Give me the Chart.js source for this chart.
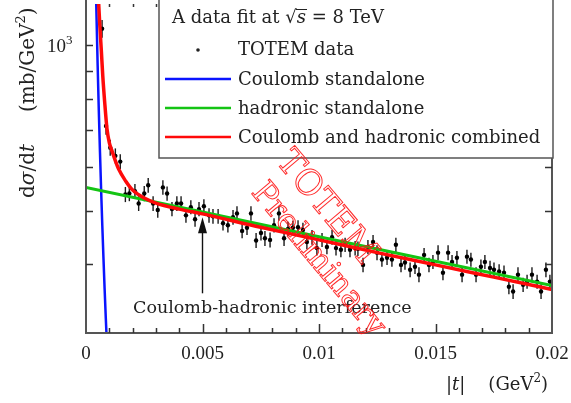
<!DOCTYPE html>
<html>
<head>
<meta charset="utf-8">
<script src="https://cdn.jsdelivr.net/npm/chart.js@4.4.1/dist/chart.umd.min.js"></script>
<style>
  html, body { margin: 0; padding: 0; background: #fff; overflow: hidden; }
  canvas { display: block; }
</style>
</head>
<body>
<canvas id="chart" width="571" height="403"></canvas>
<script>
// |t| in GeV^2, dsigma/dt in mb/GeV^2
const tData = [
  0.00069, 0.00086, 0.00104, 0.00126, 0.00147, 0.00169, 0.00186, 0.0021, 0.00226, 0.0025,
  0.00267, 0.00288, 0.00308, 0.0033, 0.00348, 0.00369, 0.0039, 0.00408, 0.00429, 0.0045,
  0.00468, 0.00485, 0.00506, 0.00528, 0.00545, 0.00567, 0.00588, 0.00609, 0.00631, 0.00648,
  0.0067, 0.00691, 0.00708, 0.0073, 0.00751, 0.00768, 0.0079, 0.00807, 0.00828, 0.0085,
  0.00867, 0.00888, 0.0091, 0.00931, 0.00948, 0.0097, 0.00991, 0.01013, 0.01034, 0.01056,
  0.01073, 0.01094, 0.01112, 0.01133, 0.01155, 0.01167, 0.01189, 0.0121, 0.01232, 0.01249,
  0.0127, 0.01292, 0.01313, 0.0133, 0.01352, 0.01369, 0.01391, 0.01412, 0.01429, 0.01451,
  0.01472, 0.01489, 0.01511, 0.01532, 0.01554, 0.01571, 0.01592, 0.01614, 0.01635, 0.01652,
  0.01674, 0.01695, 0.01712, 0.01734, 0.01751, 0.01773, 0.01794, 0.01815, 0.01833, 0.01854,
  0.01876, 0.01893, 0.01914, 0.01936, 0.01953, 0.01974, 0.01991
];
const sigmaData = [
  1073, 713, 651, 629, 614, 535, 537, 542, 515, 537,
  556, 515, 501, 551, 537, 503, 515, 515, 490, 507,
  482, 503, 509, 490, 488, 488, 474, 470, 486, 494,
  459, 465, 494, 441, 455, 445, 442, 470, 494, 445,
  463, 465, 466, 461, 438, 447, 427, 442, 429, 447,
  427, 424, 433, 424, 427, 426, 398, 429, 438, 419,
  407, 410, 407, 433, 398, 402, 390, 395, 382, 415,
  398, 403, 419, 385, 419, 403, 410, 382, 412, 407,
  382, 395, 403, 393, 390, 387, 385, 363, 356, 382,
  366, 371, 382, 371, 356, 390, 371
];
const sigmaErr = [
  40, 26, 22, 20, 19, 17, 17, 17, 16, 17,
  17, 16, 16, 17, 16, 15, 16, 16, 15, 15,
  15, 15, 15, 15, 15, 15, 14, 14, 15, 15,
  14, 14, 15, 14, 14, 14, 14, 14, 15, 14,
  14, 14, 14, 14, 13, 14, 13, 13, 13, 14,
  13, 13, 13, 13, 13, 13, 12, 13, 13, 13,
  12, 12, 12, 13, 12, 12, 12, 12, 12, 12,
  12, 12, 13, 12, 13, 12, 12, 12, 12, 12,
  12, 12, 12, 12, 12, 12, 12, 11, 11, 12,
  11, 11, 12, 11, 11, 12, 11
];

const tCoulomb = [0.00042, 0.00045, 0.0005, 0.00055, 0.0006, 0.00065, 0.0007, 0.00075, 0.0008, 0.00085, 0.0009, 0.00095];
const sigmaCoulomb = [1304, 1136, 920, 760, 639, 544, 469, 409, 359, 318, 284, 255];

const tHadronic = [0, 0.005, 0.01, 0.015, 0.02];
const sigmaHadronic = [551, 497, 448, 404, 365];

const tCombined = [
  0.0005, 0.00054, 0.0006, 0.00066, 0.00072, 0.0008, 0.0009, 0.001, 0.0011, 0.00125,
  0.0014, 0.0017, 0.002, 0.0025, 0.003, 0.004, 0.005, 0.0075, 0.01, 0.0125,
  0.015, 0.0175, 0.02
];
const sigmaCombined = [
  1320, 1200, 1075, 975, 880, 790, 705, 665, 645, 618,
  595, 566, 545, 527, 516, 503, 493, 466, 442, 419,
  398, 378, 359
];

const xTicks = [0, 0.005, 0.01, 0.015, 0.02];
const xTickLabels = ['0', '0.005', '0.01', '0.015', '0.02'];
const xMinorStep = 0.001;
const yTicks = [400, 500, 600, 700, 800, 900, 1000];

const serif = '"DejaVu Serif", serif';
const tickFont = '"Liberation Serif", serif';

const points = (xs, ys) => xs.map((x, i) => ({ x, y: ys[i] }));

// draw a row of text pieces with their own fonts, returns the end x
const drawRuns = (ctx, runs, x, y) => {
  runs.forEach(([text, font, dy = 0]) => {
    ctx.font = font;
    ctx.fillText(text, x, y + dy);
    x += ctx.measureText(text).width;
  });
  return x;
};

const errorBars = {
  id: 'errorBars',
  beforeDatasetsDraw(chart) {
    const { ctx, chartArea: a, scales: { x, y } } = chart;
    ctx.save();
    ctx.beginPath();
    ctx.rect(a.left, a.top, a.right - a.left, a.bottom - a.top);
    ctx.clip();
    ctx.strokeStyle = '#1a1a1a';
    ctx.lineWidth = 1.4;
    tData.forEach((t, i) => {
      const px = x.getPixelForValue(t);
      ctx.beginPath();
      ctx.moveTo(px, y.getPixelForValue(sigmaData[i] - sigmaErr[i]));
      ctx.lineTo(px, y.getPixelForValue(sigmaData[i] + sigmaErr[i]));
      ctx.stroke();
    });
    ctx.restore();
  }
};

// axes frame with inward ticks on every side
const frame = {
  id: 'frame',
  afterDatasetsDraw(chart) {
    const { ctx, chartArea: a, scales: { x, y } } = chart;
    ctx.save();
    ctx.strokeStyle = '#555';
    ctx.lineWidth = 2;
    ctx.beginPath();
    ctx.moveTo(a.left, a.top - 5);
    ctx.lineTo(a.left, a.bottom);
    ctx.lineTo(a.right, a.bottom);
    ctx.lineTo(a.right, a.top - 5);
    ctx.stroke();

    ctx.strokeStyle = '#333';
    ctx.lineWidth = 1.5;
    ctx.beginPath();
    for (let v = xMinorStep; v < x.max - xMinorStep / 2; v += xMinorStep) {
      const px = Math.round(x.getPixelForValue(v)) + 0.5;
      const major = xTicks.some(t => Math.abs(t - v) < xMinorStep / 10);
      const len = major ? 9 : 5;
      ctx.moveTo(px, a.bottom);
      ctx.lineTo(px, a.bottom - len);
      ctx.moveTo(px, a.top);
      ctx.lineTo(px, a.top + len - 2);
    }
    yTicks.forEach(v => {
      const py = Math.round(y.getPixelForValue(v)) + 0.5;
      ctx.moveTo(a.left, py);
      ctx.lineTo(a.left + 7, py);
      ctx.moveTo(a.right, py);
      ctx.lineTo(a.right - 7, py);
    });
    ctx.stroke();

    // y tick label 10^3
    const p = y.getPixelForValue(1000);
    ctx.fillStyle = '#222';
    ctx.textBaseline = 'alphabetic';
    drawRuns(ctx, [['10', `19px ${tickFont}`], ['3', `13px ${tickFont}`, -8]], 47, p + 7);

    // axis titles
    ctx.save();
    ctx.translate(34, 198);
    ctx.rotate(-Math.PI / 2);
    let e = drawRuns(ctx, [
      ['d', `20px ${serif}`], ['σ', `italic 20px ${serif}`], ['/d', `20px ${serif}`], ['t', `italic 20px ${serif}`]
    ], 0, 0);
    drawRuns(ctx, [['(mb/GeV', `20px ${serif}`], ['2', `13px ${serif}`, -9], [')', `20px ${serif}`]], e + 32, 0);
    ctx.restore();

    e = drawRuns(ctx, [['|', `18px ${serif}`], ['t', `italic 18px ${serif}`], ['|', `18px ${serif}`]], 446, 390);
    drawRuns(ctx, [['(GeV', `18px ${serif}`], ['2', `12px ${serif}`, -8], [')', `18px ${serif}`]], e + 23, 390);
    ctx.restore();
  }
};

const annotation = {
  id: 'annotation',
  afterDatasetsDraw(chart) {
    const { ctx, scales: { x, y } } = chart;
    const px = x.getPixelForValue(0.005);
    const tip = y.getPixelForValue(486);
    ctx.save();
    ctx.strokeStyle = '#111';
    ctx.fillStyle = '#111';
    ctx.lineWidth = 1.4;
    ctx.beginPath();
    ctx.moveTo(px, tip + 12);
    ctx.lineTo(px, tip + 76);
    ctx.stroke();
    ctx.beginPath();
    ctx.moveTo(px, tip);
    ctx.lineTo(px - 4.5, tip + 16);
    ctx.lineTo(px + 4.5, tip + 16);
    ctx.closePath();
    ctx.fill();
    ctx.fillStyle = '#222';
    ctx.font = `17.5px ${serif}`;
    ctx.fillText('Coulomb-hadronic interference', 133, 313);
    ctx.restore();
  }
};

const legendBox = {
  id: 'legendBox',
  afterDatasetsDraw(chart) {
    const { ctx } = chart;
    const sets = chart.data.datasets;
    ctx.save();
    ctx.fillStyle = '#fff';
    ctx.fillRect(159, -5, 394, 163);
    ctx.strokeStyle = '#555';
    ctx.lineWidth = 1.5;
    ctx.strokeRect(159, -5, 394, 163);

    ctx.fillStyle = '#222';
    ctx.textBaseline = 'alphabetic';
    const f = `18px ${serif}`;
    let e = drawRuns(ctx, [['A data fit at ', f], ['√', f]], 172, 23);
    ctx.font = `italic 18px ${serif}`;
    const sw = ctx.measureText('s').width;
    ctx.fillText('s', e, 23);
    ctx.strokeStyle = '#222';
    ctx.lineWidth = 1;
    ctx.beginPath();
    ctx.moveTo(e - 1, 9.5);
    ctx.lineTo(e + sw + 1, 9.5);
    ctx.stroke();
    drawRuns(ctx, [[' = 8 TeV', f]], e + sw, 23);

    ctx.beginPath();
    ctx.arc(198, 50, 1.8, 0, Math.PI * 2);
    ctx.fill();
    ctx.font = f;
    ctx.fillText(sets[0].label, 238, 55);

    [1, 2, 3].forEach((k, i) => {
      const base = 85 + i * 29;
      ctx.strokeStyle = sets[k].borderColor;
      ctx.lineWidth = 2.5;
      ctx.beginPath();
      ctx.moveTo(165, base - 6);
      ctx.lineTo(231, base - 6);
      ctx.stroke();
      ctx.fillText(sets[k].label, 238, base);
    });
    ctx.restore();
  }
};

const watermark = {
  id: 'watermark',
  afterDatasetsDraw(chart) {
    const { ctx } = chart;
    ctx.save();
    ctx.strokeStyle = 'rgba(255, 20, 20, 0.9)';
    ctx.lineWidth = 1;
    ctx.textAlign = 'center';
    ctx.textBaseline = 'middle';
    [['TOTEM', 326, 208, 35], ['Preliminary', 318, 260, 32]].forEach(([text, cx, cy, size]) => {
      ctx.save();
      ctx.font = `${size}px ${serif}`;
      ctx.translate(cx, cy);
      ctx.rotate(50 * Math.PI / 180);
      ctx.strokeText(text, 0, 0);
      ctx.restore();
    });
    ctx.restore();
  }
};

new Chart(document.getElementById('chart'), {
  type: 'scatter',
  data: {
    datasets: [
      {
        label: 'TOTEM data',
        data: points(tData, sigmaData),
        pointRadius: 2.2,
        pointBorderWidth: 0,
        pointBackgroundColor: '#000',
        order: 4
      },
      {
        label: 'Coulomb standalone',
        type: 'line',
        data: points(tCoulomb, sigmaCoulomb),
        borderColor: '#0a14ff',
        borderWidth: 2.5,
        pointRadius: 0,
        cubicInterpolationMode: 'monotone',
        clip: 0,
        order: 3
      },
      {
        label: 'hadronic standalone',
        type: 'line',
        data: points(tHadronic, sigmaHadronic),
        borderColor: '#14c414',
        borderWidth: 3,
        pointRadius: 0,
        clip: 0,
        order: 2
      },
      {
        label: 'Coulomb and hadronic combined',
        type: 'line',
        data: points(tCombined, sigmaCombined),
        borderColor: '#ff0a0a',
        borderWidth: 3.5,
        pointRadius: 0,
        cubicInterpolationMode: 'monotone',
        clip: 0,
        order: 1
      }
    ]
  },
  options: {
    responsive: false,
    animation: false,
    events: [],
    layout: { padding: { top: 0, right: 19, left: 0, bottom: 0 } },
    plugins: {
      legend: { display: false },
      tooltip: { enabled: false }
    },
    scales: {
      x: {
        type: 'linear',
        min: 0,
        max: 0.02,
        grid: { display: false, drawTicks: false },
        border: { display: false },
        afterBuildTicks: (scale) => { scale.ticks = xTicks.map(value => ({ value })) },
        ticks: {
          callback: (v, i) => xTickLabels[i],
          color: '#222',
          font: { family: '"Liberation Serif", serif', size: 19 },
          padding: 10,
          maxRotation: 0,
          autoSkip: false
        },
        afterFit: (scale) => {
          scale.height = 70;
          scale.paddingLeft = 0;
          scale.paddingRight = 0;
        }
      },
      y: {
        type: 'logarithmic',
        min: 299,
        max: 1190,
        grid: { display: false, drawTicks: false },
        border: { display: false },
        ticks: { display: false },
        afterFit: (scale) => { scale.width = 86 }
      }
    }
  },
  plugins: [errorBars, frame, annotation, legendBox, watermark]
});
</script>
</body>
</html>
